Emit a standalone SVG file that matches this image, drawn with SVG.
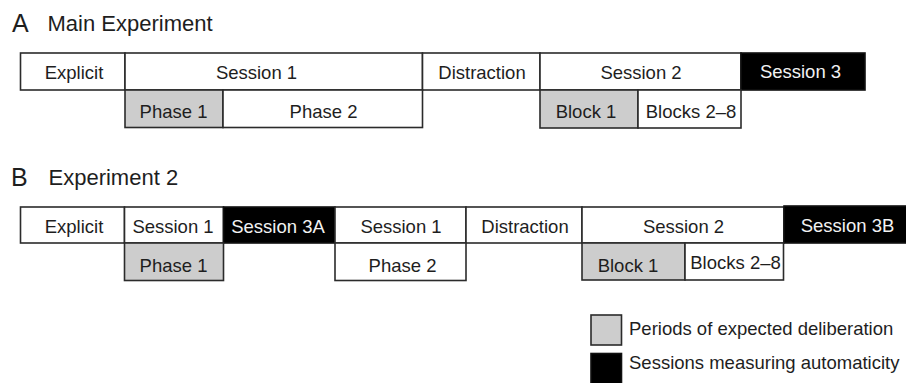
<svg xmlns="http://www.w3.org/2000/svg" width="906" height="383" viewBox="0 0 906 383">
<style>
.b{fill:#fff;stroke:#2b2b2b;stroke-width:1.6}
.g{fill:#cdcdcd;stroke:#2b2b2b;stroke-width:1.6}
.k{fill:#000;stroke:#111;stroke-width:1.6}
text{font-family:"Liberation Sans",Arial,sans-serif;font-size:18.5px;fill:#1e1e1e;text-anchor:middle}
.w{fill:#f2f2f2}
.t{font-size:22px;text-anchor:start}
.L{font-size:25px;text-anchor:start}
.s{text-anchor:start}
</style>
<rect width="906" height="383" fill="#fff"/>
<g id="titleA"><text class="L" x="12" y="31.5">A</text><text class="t" x="47.5" y="31">Main Experiment</text></g>
<g id="a-explicit"><rect class="b" x="20.5" y="53" width="104.5" height="37"/><text x="74" y="79">Explicit</text></g>
<g id="a-session1"><rect class="b" x="125" y="53" width="297.5" height="37"/><text x="256.5" y="79">Session 1</text></g>
<g id="a-distraction"><rect class="b" x="422.5" y="53" width="117.5" height="37"/><text x="482" y="79">Distraction</text></g>
<g id="a-session2"><rect class="b" x="540" y="53" width="201" height="37"/><text x="641" y="79">Session 2</text></g>
<g id="a-session3"><rect class="k" x="741" y="53" width="124" height="37"/><text class="w" x="800.5" y="78">Session 3</text></g>
<g id="a-phase1"><rect class="g" x="125" y="90" width="98" height="37.5"/><text x="173.5" y="118">Phase 1</text></g>
<g id="a-phase2"><rect class="b" x="223" y="90" width="199.5" height="37.5"/><text x="323.5" y="118">Phase 2</text></g>
<g id="a-block1"><rect class="g" x="540" y="90" width="98" height="38"/><text x="586" y="118">Block 1</text></g>
<g id="a-blocks2-8"><rect class="b" x="638" y="90" width="103" height="38"/><text x="691" y="118">Blocks 2–8</text></g>

<g id="titleB"><text class="L" x="11" y="185.5">B</text><text class="t" x="48.5" y="185">Experiment 2</text></g>
<g id="b-explicit"><rect class="b" x="20.5" y="207" width="104" height="36"/><text x="74" y="233">Explicit</text></g>
<g id="b-session1"><rect class="b" x="124.5" y="207" width="99" height="36"/><text x="173" y="233">Session 1</text></g>
<g id="b-session3a"><rect class="k" x="223.5" y="207" width="111.5" height="36"/><text class="w" x="278" y="232.5">Session 3A</text></g>
<g id="b-session1b"><rect class="b" x="335" y="207" width="131" height="36"/><text x="401" y="233">Session 1</text></g>
<g id="b-distraction"><rect class="b" x="466" y="207" width="116" height="36"/><text x="525" y="233">Distraction</text></g>
<g id="b-session2"><rect class="b" x="582" y="207" width="202" height="36"/><text x="683.5" y="233">Session 2</text></g>
<g id="b-session3b"><rect class="k" x="784" y="206" width="124" height="37"/><text class="w" x="847.5" y="232">Session 3B</text></g>
<g id="b-phase1"><rect class="g" x="124.5" y="243" width="99" height="37.5"/><text x="173.5" y="271.5">Phase 1</text></g>
<g id="b-phase2"><rect class="b" x="335" y="243" width="131" height="37.5"/><text x="402.5" y="271.5">Phase 2</text></g>
<g id="b-block1"><rect class="g" x="582" y="243" width="103" height="37"/><text x="628" y="272">Block 1</text></g>
<g id="b-blocks2-8"><rect class="b" x="685" y="243" width="98.5" height="37"/><text x="735.5" y="268.5">Blocks 2–8</text></g>

<g id="legend-deliberation"><rect class="g" x="591" y="315" width="30.5" height="30"/><text class="s" x="629" y="335">Periods of expected deliberation</text></g>
<g id="legend-automaticity"><rect class="k" x="591" y="353.5" width="30.5" height="32"/><text class="s" x="629" y="369">Sessions measuring automaticity</text></g>
<g id="connectors"></g>
</svg>
